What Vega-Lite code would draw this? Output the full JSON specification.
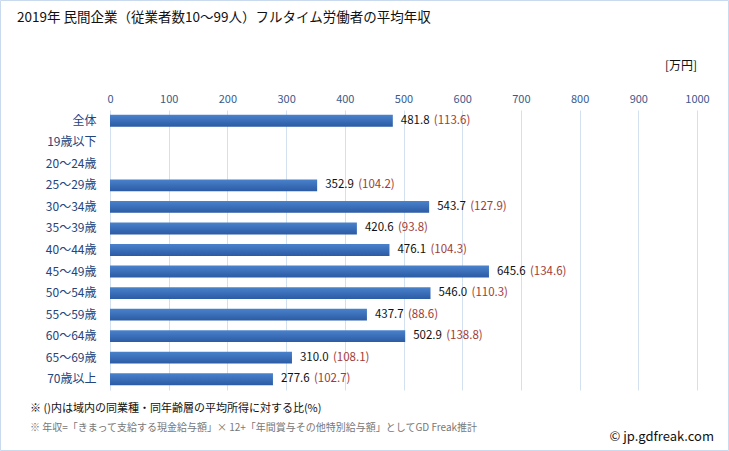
{
  "$schema": "https://vega.github.io/schema/vega-lite/v6.json",
  "autosize": {"type": "none"},
  "width": 587,
  "height": 280,
  "padding": {"left": 110, "top": 110, "right": 32, "bottom": 61},
  "background": "#ffffff",
  "config": {
    "view": {"stroke": null},
    "font": "Noto Sans CJK JP"
  },
  "data": {
    "values": [
      {"age": "全体", "value": 481.8, "ratio": 113.6},
      {"age": "19歳以下", "value": 0, "ratio": null},
      {"age": "20〜24歳", "value": 0, "ratio": null},
      {"age": "25〜29歳", "value": 352.9, "ratio": 104.2},
      {"age": "30〜34歳", "value": 543.7, "ratio": 127.9},
      {"age": "35〜39歳", "value": 420.6, "ratio": 93.8},
      {"age": "40〜44歳", "value": 476.1, "ratio": 104.3},
      {"age": "45〜49歳", "value": 645.6, "ratio": 134.6},
      {"age": "50〜54歳", "value": 546.0, "ratio": 110.3},
      {"age": "55〜59歳", "value": 437.7, "ratio": 88.6},
      {"age": "60〜64歳", "value": 502.9, "ratio": 138.8},
      {"age": "65〜69歳", "value": 310.0, "ratio": 108.1},
      {"age": "70歳以上", "value": 277.6, "ratio": 102.7}
    ]
  },
  "encoding": {
    "y": {
      "field": "age", "type": "nominal", "sort": null,
      "scale": {"paddingInner": 0.45, "paddingOuter": 0.225},
      "axis": {"title": null, "domain": false, "ticks": false, "labelPadding": 14, "labelFontSize": 12, "labelColor": "#24447c", "labelFont": "Noto Sans CJK JP"}
    }
  },
  "layer": [
    {
      "mark": {"type": "rect", "fill": null, "stroke": "#c9d9ee", "strokeWidth": 1, "clip": false},
      "data": {"values": [{}]},
      "encoding": {
        "x": {"value": -109.5}, "x2": {"value": 618.5},
        "y": {"value": -109.5}, "y2": {"value": 340.5}
      }
    },
    {
      "mark": {"type": "bar", "color": {"gradient": "linear", "x1": 0, "y1": 0, "x2": 0, "y2": 1, "stops": [{"offset": 0, "color": "#4a82cc"}, {"offset": 1, "color": "#2b5ba4"}]}},
      "encoding": {
        "x": {
          "field": "value", "type": "quantitative",
          "scale": {"domain": [0, 1000]},
          "axis": {"orient": "top", "title": null, "format": "d", "values": [0,100,200,300,400,500,600,700,800,900,1000], "domain": false, "ticks": false, "labelPadding": 6, "labelFontSize": 11, "labelColor": "#3a5a8c", "labelFont": "Noto Sans CJK JP", "gridColor": "#d3e0ef", "gridWidth": 1, "labelFlush": false}
        }
      }
    },
    {
      "transform": [{"filter": "datum.ratio != null"}],
      "mark": {"type": "text", "align": "left", "baseline": "middle", "dx": 8, "fontSize": 11.5, "color": "#111111"},
      "encoding": {
        "x": {"field": "value", "type": "quantitative"},
        "text": {"field": "value", "type": "quantitative", "format": ".1f"}
      }
    },
    {
      "transform": [{"filter": "datum.ratio != null"}, {"calculate": "'(' + format(datum.ratio, '.1f') + ')'", "as": "rtxt"}],
      "mark": {"type": "text", "align": "left", "baseline": "middle", "dx": 41, "fontSize": 11.5, "color": "#a23b36"},
      "encoding": {
        "x": {"field": "value", "type": "quantitative"},
        "text": {"field": "rtxt", "type": "nominal"}
      }
    },
    {
      "data": {"values": [{"t": "2019年 民間企業（従業者数10〜99人）フルタイム労働者の平均年収"}]},
      "mark": {"type": "text", "align": "left", "baseline": "middle", "fontSize": 13.5, "color": "#111111"},
      "encoding": {"x": {"value": -93}, "y": {"value": -92}, "text": {"field": "t"}}
    },
    {
      "data": {"values": [{"t": "[万円]"}]},
      "mark": {"type": "text", "align": "right", "baseline": "middle", "fontSize": 12, "color": "#111111"},
      "encoding": {"x": {"value": 587}, "y": {"value": -44}, "text": {"field": "t"}}
    },
    {
      "data": {"values": [{"t": "※ ()内は域内の同業種・同年齢層の平均所得に対する比(%)"}]},
      "mark": {"type": "text", "align": "left", "baseline": "middle", "fontSize": 11, "color": "#111111"},
      "encoding": {"x": {"value": -80}, "y": {"value": 299}, "text": {"field": "t"}}
    },
    {
      "data": {"values": [{"t": "※ 年収=「きまって支給する現金給与額」× 12+「年間賞与その他特別給与額」としてGD Freak推計"}]},
      "mark": {"type": "text", "align": "left", "baseline": "middle", "fontSize": 10, "color": "#777777"},
      "encoding": {"x": {"value": -80}, "y": {"value": 318}, "text": {"field": "t"}}
    },
    {
      "data": {"values": [{"t": "© jp.gdfreak.com"}]},
      "mark": {"type": "text", "align": "right", "baseline": "middle", "fontSize": 13, "color": "#111111"},
      "encoding": {"x": {"value": 604}, "y": {"value": 327}, "text": {"field": "t"}}
    }
  ]
}
